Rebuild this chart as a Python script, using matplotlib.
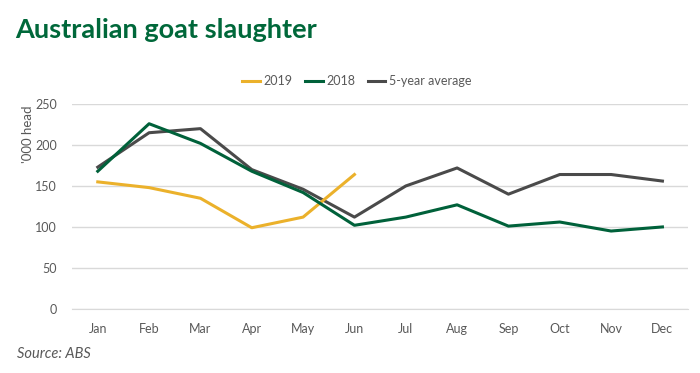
import matplotlib
matplotlib.use("Agg")
from matplotlib import pyplot as plt

months = ["Jan", "Feb", "Mar", "Apr", "May", "Jun", "Jul", "Aug", "Sep", "Oct", "Nov", "Dec"]
y2019 = [155, 148, 135, 99, 112, 164]
y2018 = [168, 226, 202, 168, 142, 102, 112, 127, 101, 106, 95, 100]
avg5 = [173, 215, 220, 170, 146, 112, 150, 172, 140, 164, 164, 156]
yticks = [0, 50, 100, 150, 200, 250]

plt.rcParams['font.family'] = ['Lato', 'DejaVu Sans']

fig = plt.figure(figsize=(7, 3.73), dpi=100)
ax = fig.add_axes([0.103, 0.172, 0.88, 0.549])

x = list(range(len(months)))
ax.plot(x[:len(y2019)], y2019, color="#EBB12B", lw=2.2, label="2019", zorder=3)
ax.plot(x, y2018, color="#00613A", lw=2.2, label="2018", zorder=3)
ax.plot(x, avg5, color="#4A4A4A", lw=2.2, label="5-year average", zorder=2)

ax.set_xlim(-0.5, 11.5)
ax.set_ylim(0, 250)
ax.set_xticks(x)
ax.set_xticklabels(months)
ax.set_yticks(yticks)
ax.grid(axis="y", color="#D9D9D9", lw=1)
ax.set_axisbelow(True)
for s in ["top", "right", "left"]:
    ax.spines[s].set_visible(False)
ax.spines["bottom"].set_color("#D9D9D9")
ax.tick_params(length=0, colors="#595959", labelsize=9, pad=10)
ax.tick_params(axis="y", pad=11)

fig.legend(loc="center", bbox_to_anchor=(0.51, 0.783), ncol=3, frameon=False,
           fontsize=9, handlelength=1.4, columnspacing=1.0, handletextpad=0.3,
           labelcolor="#595959")

fig.text(0.04, 0.64, "'000 head", rotation=90, color="#595959", fontsize=9.5,
         va="center", ha="center")
fig.text(0.022, 0.92, "Australian goat slaughter", color="#00683A", fontsize=19.5,
         fontweight="bold", va="center", ha="left")
fig.text(0.024, 0.051, "Source: ABS", color="#595959", fontsize=10.5, style="italic",
         va="center", ha="left")

fig.savefig("out.png", dpi=100)
